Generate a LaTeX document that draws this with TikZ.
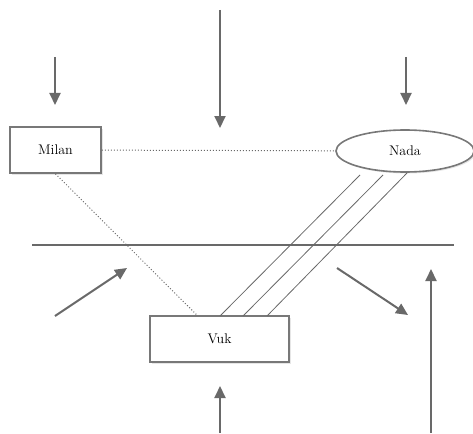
\documentclass[tikz,border=0pt]{standalone}
\usepackage{tikz}
\usetikzlibrary{shapes.geometric, arrows.meta, positioning, shadows}
\definecolor{linegray}{RGB}{105, 105, 105}
\definecolor{boxgray}{RGB}{120, 120, 120}
\tikzset{
    person/.style={rectangle, draw=boxgray, fill=white, line width=1.6pt, minimum width=91pt, minimum height=46pt, align=center, font=\fontsize{14}{16}\selectfont, drop shadow={opacity=0.2, shadow xshift=1.5pt, shadow yshift=-1.5pt}},
    oval/.style={ellipse, draw=boxgray, fill=white, line width=1.6pt, minimum width=138pt, minimum height=42pt, inner sep=0pt, align=center, font=\fontsize{14}{16}\selectfont, drop shadow={opacity=0.2, shadow xshift=1.5pt, shadow yshift=-1.5pt}},
    force/.style={-{Triangle[length=12pt, width=11pt]}, linegray, line width=2pt},
    tie/.style={linegray, line width=0.8pt},
    weak/.style={linegray, dotted, line width=1pt}
}
\begin{document}
\begin{tikzpicture}[x=1pt, y=-1pt]
            \useasboundingbox (0,0) rectangle (473,433);
            \node (milan) [person] at (55.5,150) {Milan};
            \node (nada) [oval] at (405,151) {Nada};
            \node (vuk) [person, minimum width=139pt] at (219.5,339) {Vuk};

            % the border line
            \coordinate (bl) at (32,245);
            \coordinate (br) at (454,245);
            \draw [linegray, line width=1.6pt] (bl) -- (br);

            % relations
            \draw [weak] (milan) -- (nada);
            \draw [weak] (milan.south) -- (vuk.north west -| 197,0);
            \coordinate (n1) at (360,175);
            \coordinate (n2) at (383,175);
            \coordinate (n3) at (407,173);
            \coordinate (v1) at (220,316);
            \coordinate (v2) at (243,316);
            \coordinate (v3) at (267,316);
            \draw [tie] (n1) -- (v1);
            \draw [tie] (n2) -- (v2);
            \draw [tie] (n3) -- (v3);

            % outside forces
            \coordinate (f1a) at (55,57);   \coordinate (f1b) at (55,105);
            \coordinate (f2a) at (220,10);  \coordinate (f2b) at (220,128);
            \coordinate (f3a) at (406,57);  \coordinate (f3b) at (406,105);
            \coordinate (f4a) at (55,316);  \coordinate (f4b) at (127,268);
            \coordinate (f5a) at (337,268); \coordinate (f5b) at (408,315);
            \coordinate (f6a) at (431,433); \coordinate (f6b) at (431,269);
            \coordinate (f7a) at (220,433); \coordinate (f7b) at (220,386);
            \draw [force] (f1a) -- (f1b);
            \draw [force] (f2a) -- (f2b);
            \draw [force] (f3a) -- (f3b);
            \draw [force] (f4a) -- (f4b);
            \draw [force] (f5a) -- (f5b);
            \draw [force] (f6a) -- (f6b);
            \draw [force] (f7a) -- (f7b);
        \end{tikzpicture}
\end{document}
